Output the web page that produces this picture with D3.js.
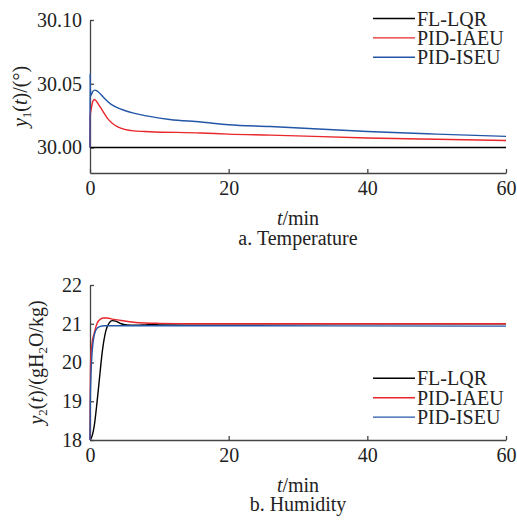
<!DOCTYPE html>
<html>
<head>
<meta charset="utf-8">
<script src="https://cdn.jsdelivr.net/npm/d3@7"></script>
<style>
  body { margin: 0; background: #fff; }
  .axis path, .axis line { stroke: #444; stroke-width: 1.3; }
</style>
</head>
<body>
<div id="chart"></div>
<script>

// ---- data ----
const seriesNames = ["FL-LQR", "PID-IAEU", "PID-ISEU"];

// a. Temperature
const tempLqrTime = [0, 60];
const tempLqrVal = [30.0, 30.0];
const tempIaeuTime = [0, 0.02, 0.2, 0.4, 0.6, 0.8, 1.2, 1.8, 2.5, 3.2, 4, 5, 6.3, 8.6, 16, 20, 26, 40, 50, 60];
const tempIaeuVal = [30.0, 30.024, 30.031, 30.036, 30.0376, 30.037, 30.034, 30.029, 30.023, 30.019, 30.0162, 30.0142, 30.0130, 30.0124, 30.0114, 30.0105, 30.0097, 30.0075, 30.0065, 30.0055];
const tempIseuTime = [0, 0.01, 0.05, 0.15, 0.4, 0.7, 1.0, 1.5, 2, 3, 4, 5, 6.3, 8.6, 11.5, 16, 20, 26, 40, 50, 60];
const tempIseuVal = [30.0, 30.058, 30.045, 30.041, 30.044, 30.045, 30.0445, 30.042, 30.039, 30.034, 30.031, 30.029, 30.027, 30.0244, 30.022, 30.020, 30.0178, 30.0165, 30.0125, 30.0105, 30.0087];

// b. Humidity
const humLqrTime = [0, 0.3, 0.6, 1.0, 1.3, 1.8, 2.3, 2.8, 3.2, 3.8, 4.5, 5.3, 6.5, 8, 10, 15, 60];
const humLqrVal = [18, 18.1, 18.35, 18.95, 19.47, 20.32, 20.83, 21.03, 21.08, 21.06, 21.0, 20.97, 20.96, 20.97, 20.99, 21.0, 21.0];
const humIaeuTime = [0, 0.05, 0.1, 0.3, 0.6, 1.0, 1.5, 2.0, 2.5, 3.2, 4, 5, 6.3, 8, 10, 15, 60];
const humIaeuVal = [18, 19.5, 20.05, 20.5, 20.75, 21.0, 21.12, 21.15, 21.15, 21.12, 21.1, 21.07, 21.04, 21.02, 21.01, 21.0, 21.0];
const humIseuTime = [0, 0.05, 0.1, 0.2, 0.33, 0.6, 1.0, 1.5, 2, 3, 60];
const humIseuVal = [18, 19.0, 19.47, 19.95, 20.32, 20.7, 20.88, 20.93, 20.95, 20.95, 20.94];

const xTicks = [0, 20, 40, 60];
const tempTicks = [30.00, 30.05, 30.10];
const humTicks = [18, 19, 20, 21, 22];

const colors = ["#000000", "#e8262b", "#2456a8"];

// ---- drawing ----
const serif = "Liberation Serif";
const fontSize = 20;
const txtColor = "#222";

const svg = d3.select("#chart").append("svg")
    .attr("width", 517)
    .attr("height", 520);

const zip = (ts, vs) => ts.map((t, i) => ({t: t, v: vs[i]}));

function addText(x, y) {
    return svg.append("text")
        .attr("x", x)
        .attr("y", y)
        .attr("font-family", serif)
        .attr("font-size", fontSize)
        .attr("fill", txtColor);
}

function drawPanel(cfg) {
    let x = d3.scaleLinear().domain([0, 60]).range([90, 506]);
    let y = d3.scaleLinear().domain(cfg.yDomain).range([cfg.bottom, cfg.top]);

    let xAxis = d3.axisBottom(x).tickValues(xTicks).tickSizeInner(-4).tickSizeOuter(0).tickPadding(8);
    let yAxis = d3.axisLeft(y).tickValues(cfg.yTicks).tickSizeInner(-4).tickSizeOuter(0).tickPadding(8)
        .tickFormat(cfg.yFormat);

    let gx = svg.append("g")
        .attr("class", "axis")
        .attr("transform", "translate(0," + cfg.bottom + ")")
        .call(xAxis);
    let gy = svg.append("g")
        .attr("class", "axis")
        .attr("transform", "translate(90,0)")
        .call(yAxis);

    [gx, gy].forEach(g => {
        g.attr("font-family", serif).attr("font-size", fontSize);
        g.selectAll("text").attr("font-family", serif).attr("font-size", fontSize).attr("fill", txtColor);
    });
    gx.selectAll("text").attr("dy", "0.68em");

    let line = d3.line()
        .x(d => x(d.t))
        .y(d => y(d.v))
        .curve(d3.curveMonotoneX);

    cfg.series.forEach((s, i) => {
        svg.append("path")
            .datum(s)
            .attr("fill", "none")
            .attr("stroke", colors[i])
            .attr("stroke-width", 1.4)
            .attr("d", line);
    });

    // legend
    seriesNames.forEach((name, i) => {
        let ly = cfg.legendY + i * 19.4;
        svg.append("line")
            .attr("x1", 373).attr("x2", 415)
            .attr("y1", ly).attr("y2", ly)
            .attr("stroke", colors[i])
            .attr("stroke-width", 1.4);
        addText(417, ly)
            .attr("dy", "0.35em")
            .text(name);
    });

    // x label
    let xl = addText(298, cfg.xLabelY)
        .attr("text-anchor", "middle");
    xl.append("tspan").attr("font-style", "italic").text("t");
    xl.append("tspan").text("/min");

    addText(298, cfg.captionY)
        .attr("text-anchor", "middle")
        .text(cfg.caption);

    // y label
    let yl = addText(0, 0)
        .attr("transform", "translate(" + cfg.yLabelX + "," + ((cfg.top + cfg.bottom) / 2) + ") rotate(-90)")
        .attr("text-anchor", "middle")
        .attr("dy", "0.35em");
    cfg.yLabel(yl);
}

drawPanel({
    top: 20, bottom: 173,
    yDomain: [29.98, 30.10],
    yTicks: tempTicks,
    yFormat: d3.format(".2f"),
    series: [zip(tempLqrTime, tempLqrVal), zip(tempIaeuTime, tempIaeuVal), zip(tempIseuTime, tempIseuVal)],
    legendY: 18.5,
    xLabelY: 225,
    captionY: 245,
    caption: "a. Temperature",
    yLabelX: 20,
    yLabel: t => {
        t.append("tspan").attr("font-style", "italic").text("y");
        t.append("tspan").attr("font-size", 13).attr("dy", 4).text("1");
        t.append("tspan").attr("dy", -4).text("(");
        t.append("tspan").attr("font-style", "italic").text("t");
        t.append("tspan").text(")/(°)");
    }
});

drawPanel({
    top: 285, bottom: 440,
    yDomain: [18, 22],
    yTicks: humTicks,
    yFormat: d3.format("d"),
    series: [zip(humLqrTime, humLqrVal), zip(humIaeuTime, humIaeuVal), zip(humIseuTime, humIseuVal)],
    legendY: 378.3,
    xLabelY: 492,
    captionY: 511,
    caption: "b. Humidity",
    yLabelX: 36,
    yLabel: t => {
        t.append("tspan").attr("font-style", "italic").text("y");
        t.append("tspan").attr("font-size", 13).attr("dy", 4).text("2");
        t.append("tspan").attr("dy", -4).text("(");
        t.append("tspan").attr("font-style", "italic").text("t");
        t.append("tspan").text(")/(gH");
        t.append("tspan").attr("font-size", 13).attr("dy", 4).text("2");
        t.append("tspan").attr("dy", -4).text("O/kg)");
    }
});

</script>
</body>
</html>
